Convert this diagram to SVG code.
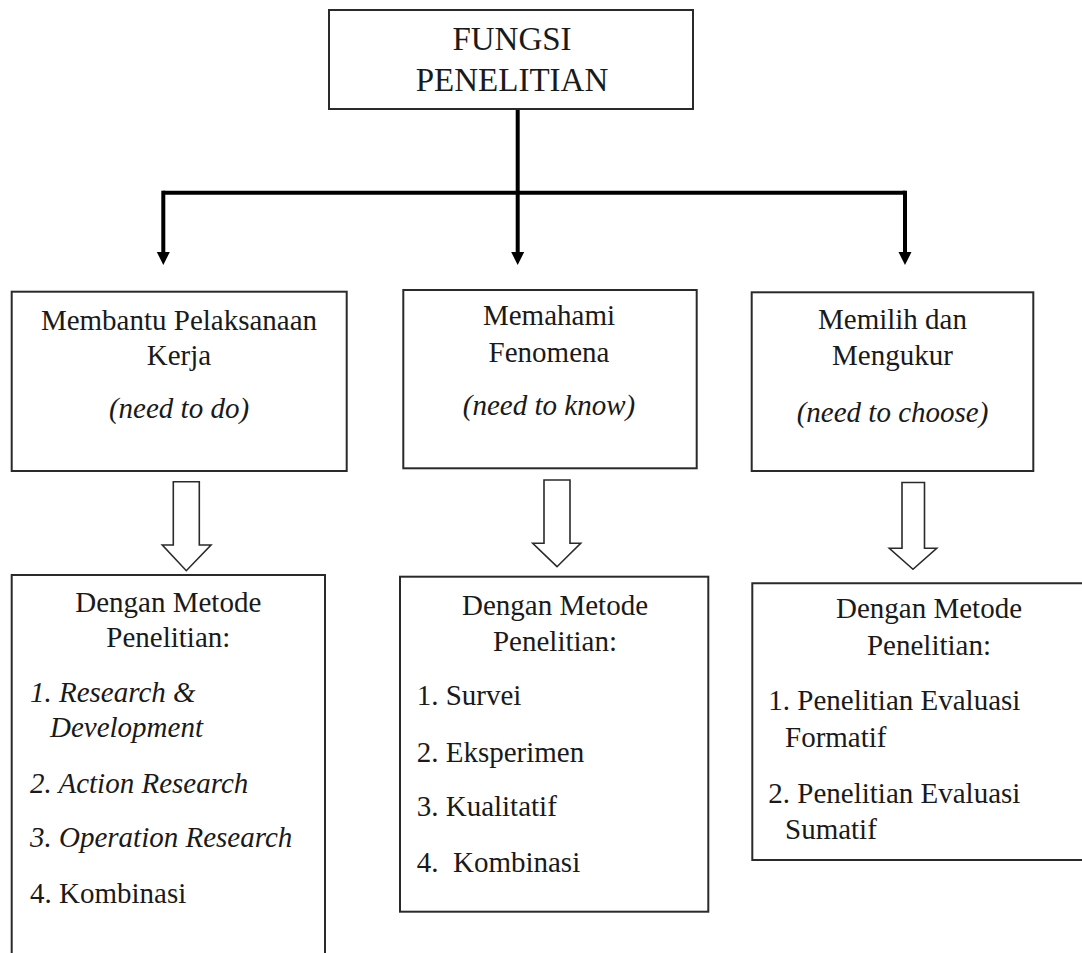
<svg xmlns="http://www.w3.org/2000/svg" width="1082" height="953" viewBox="0 0 1082 953">
  <style>
    .box { fill: #ffffff; stroke: #2a2a2a; stroke-width: 2; }
    .t { font-family: "Liberation Serif", "Times New Roman", serif; font-size: 29px; fill: #1a1a1a; }
    .title { font-family: "Liberation Serif", "Times New Roman", serif; font-size: 33px; fill: #1a1a1a; }
    .c { text-anchor: middle; }
    .i { font-style: italic; }
    .conn { stroke: #000; stroke-width: 4; fill: none; }
    .hollow { fill: #ffffff; stroke: #2a2a2a; stroke-width: 1.6; stroke-linejoin: miter; }
  </style>
  <defs>
    <marker id="ah" markerUnits="userSpaceOnUse" markerWidth="14" markerHeight="14" refX="0" refY="7" orient="auto">
      <path d="M0,0.5 L13,7 L0,13.5 Z" fill="#000"/>
    </marker>
  </defs>
  <rect width="1082" height="953" fill="#ffffff"/>

  <g id="connectors">
    <path class="conn" d="M163.3,192.7 H905"/>
    <path class="conn" d="M517.7,109 V252" marker-end="url(#ah)"/>
    <path class="conn" d="M163.3,190.7 V252" marker-end="url(#ah)"/>
    <path class="conn" d="M905,190.7 V252" marker-end="url(#ah)"/>
    <path class="hollow" d="M173.3,481.7 H199.3 V545 H211 L186.3,570.7 L162.3,545 H173.3 Z"/>
    <path class="hollow" d="M544,480 H570 V543.3 H580.7 L557,566.7 L532.7,543.3 H544 Z"/>
    <path class="hollow" d="M902,482.5 H924.5 V548.3 H936.7 L913,569.3 L889.3,548.3 H902 Z"/>
  </g>

  <g id="node-fungsi">
    <rect class="box" x="329" y="10" width="364" height="99"/>
    <text class="title c" x="512" y="50">FUNGSI</text>
    <text class="title c" x="512" y="91">PENELITIAN</text>
  </g>

  <g id="node-need-to-do">
    <rect class="box" x="11.7" y="291.7" width="335" height="179.3"/>
    <text class="t c" x="179" y="330">Membantu Pelaksanaan</text>
    <text class="t c" x="179" y="365">Kerja</text>
    <text class="t c i" x="179" y="418">(need to do)</text>
  </g>

  <g id="node-need-to-know">
    <rect class="box" x="403.3" y="290" width="293.4" height="178.3"/>
    <text class="t c" x="549" y="325">Memahami</text>
    <text class="t c" x="549" y="361.7">Fenomena</text>
    <text class="t c i" x="549" y="415">(need to know)</text>
  </g>

  <g id="node-need-to-choose">
    <rect class="box" x="751.7" y="292.3" width="281.6" height="178.7"/>
    <text class="t c" x="892.5" y="329">Memilih dan</text>
    <text class="t c" x="892.5" y="365">Mengukur</text>
    <text class="t c i" x="892.5" y="421.7">(need to choose)</text>
  </g>

  <g id="node-metode-1">
    <path class="box" d="M11.7,960 V575 H325 V960"/>
    <text class="t c" x="168.3" y="611.7">Dengan Metode</text>
    <text class="t c" x="168.3" y="647.3">Penelitian:</text>
    <text class="t i" x="30" y="701.7">1. Research &amp;</text>
    <text class="t i" x="50" y="737.3">Development</text>
    <text class="t i" x="30" y="793.3">2. Action Research</text>
    <text class="t i" x="30" y="847.3">3. Operation Research</text>
    <text class="t" x="30" y="903.3">4. Kombinasi</text>
  </g>

  <g id="node-metode-2">
    <rect class="box" x="400" y="576.7" width="308.3" height="335"/>
    <text class="t c" x="555" y="615">Dengan Metode</text>
    <text class="t c" x="555" y="650.7">Penelitian:</text>
    <text class="t" x="416.7" y="705">1. Survei</text>
    <text class="t" x="416.7" y="761.7">2. Eksperimen</text>
    <text class="t" x="416.7" y="816">3. Kualitatif</text>
    <text class="t" x="416.7" y="871.7" xml:space="preserve">4.  Kombinasi</text>
  </g>

  <g id="node-metode-3">
    <path class="box" d="M1090,583.3 H752.3 V860 H1090"/>
    <text class="t c" x="929" y="618.3">Dengan Metode</text>
    <text class="t c" x="929" y="655">Penelitian:</text>
    <text class="t" x="768.3" y="710">1. Penelitian Evaluasi</text>
    <text class="t" x="785" y="746.7">Formatif</text>
    <text class="t" x="768.3" y="802.7">2. Penelitian Evaluasi</text>
    <text class="t" x="785" y="839.4">Sumatif</text>
  </g>
</svg>
